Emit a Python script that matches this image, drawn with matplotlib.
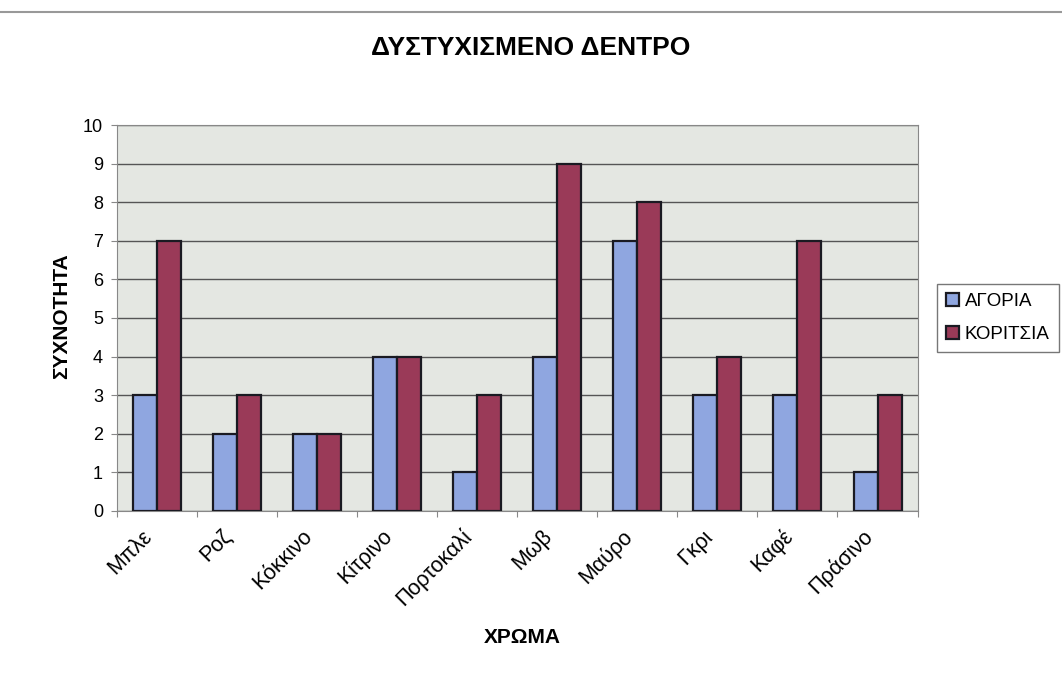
import numpy as np
import matplotlib
matplotlib.use('Agg')
import matplotlib.pyplot as plt
import matplotlib.transforms as mtransforms

categories = ['Μπλε', 'Ροζ', 'Κόκκινο', 'Κίτρινο', 'Πορτοκαλί', 'Μωβ', 'Μαύρο', 'Γκρι', 'Καφέ', 'Πράσινο']
boys = [3, 2, 2, 4, 1, 4, 7, 3, 3, 1]
girls = [7, 3, 2, 4, 3, 9, 8, 4, 7, 3]
yticks = list(range(0, 11))

plt.rcParams['font.family'] = ['Liberation Sans', 'DejaVu Sans']

fig = plt.figure(figsize=(10.62, 6.81), dpi=100)
ax = fig.add_axes([0.110, 0.2497, 0.754, 0.5667])
ax.set_facecolor('#e4e7e2')

x = np.arange(len(categories))
w = 0.3
ax.bar(x - w/2, boys, w, color='#8fa6e0', edgecolor='#1a1a22', linewidth=1.6, label='ΑΓΟΡΙΑ', zorder=3)
ax.bar(x + w/2, girls, w, color='#9a3a58', edgecolor='#1a1a22', linewidth=1.6, label='ΚΟΡΙΤΣΙΑ', zorder=3)

ax.set_xlim(-0.5, len(categories) - 0.5)
ax.set_ylim(0, 10)
ax.set_yticks(yticks)
ax.yaxis.grid(True, color='#555555', linewidth=1.0, zorder=0)
ax.set_xticks(np.arange(len(categories) + 1) - 0.5, minor=False)
ax.set_xticklabels([])
ax.set_xticks(x, minor=True)
ax.set_xticklabels(categories, minor=True, rotation=45, ha='right', va='center',
                   rotation_mode='anchor', fontsize=15.5)
ax.tick_params(axis='x', which='minor', length=0, pad=16)
ax.tick_params(axis='x', which='major', length=4, color='#888888')
ax.tick_params(axis='y', labelsize=13, length=4, color='#888888', pad=6)
shift = mtransforms.ScaledTranslation(-8 / 100, 0, fig.dpi_scale_trans)
for lab in ax.get_xticklabels(minor=True):
    lab.set_transform(lab.get_transform() + shift)
for s in ax.spines.values():
    s.set_color('#888888')

fig.text(0.5, 0.9295, 'ΔΥΣΤΥΧΙΣΜΕΝΟ ΔΕΝΤΡΟ', fontsize=19, fontweight='bold', ha='center', va='center')
fig.text(0.058, 0.5352, 'ΣΥΧΝΟΤΗΤΑ', fontsize=15, fontweight='bold', rotation=90, ha='center', va='center')
fig.text(0.4915, 0.0646, 'ΧΡΩΜΑ', fontsize=15, fontweight='bold', ha='center', va='center')

leg = ax.legend(loc='center left', bbox_to_anchor=(1.024, 0.5), fontsize=13.5, frameon=True,
                fancybox=False, edgecolor='#555555', handlelength=0.7, handleheight=0.7,
                handletextpad=0.3, borderpad=0.5, labelspacing=0.85, borderaxespad=0)
leg.get_frame().set_linewidth(1.0)

fig.add_artist(plt.Line2D([0.0, 1.0], [0.982, 0.982], color='#999999', linewidth=1.5))

fig.savefig('out.png', dpi=100)
